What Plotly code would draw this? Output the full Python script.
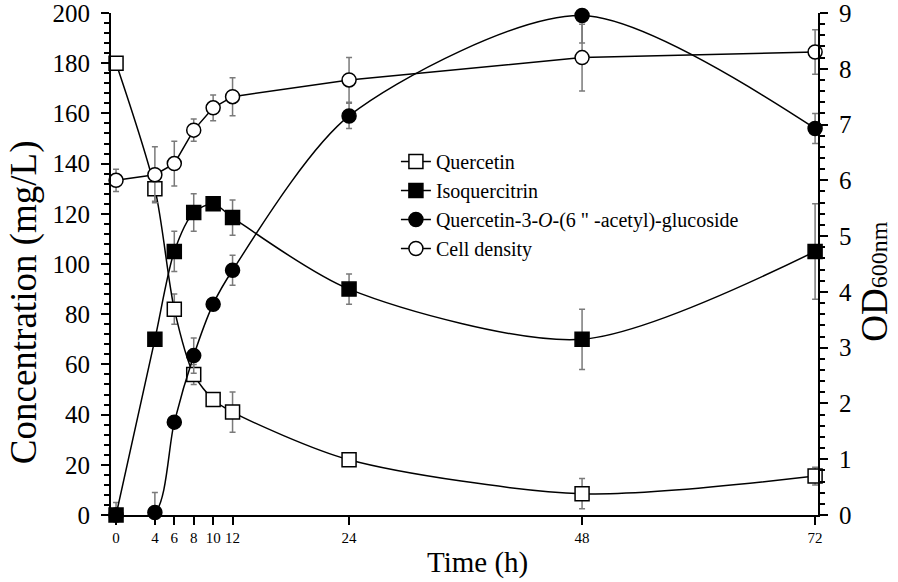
import plotly.graph_objects as go

time_h = [0, 4, 6, 8, 10, 12, 24, 48, 72]
tick_labels = ["0", "4", "6", "8", "10", "12", "24", "48", "72"]

quercetin = [180, 130, 82, 56, 46, 41, 22, 8.5, 15.5]
quercetin_err = [1.5, 5, 6, 4, 2.5, 8, 2, 6, 3.5]

isoquercitrin = [0, 70, 105, 120.5, 124, 118.5, 90, 70, 105]
isoquercitrin_err = [5, 0, 8, 7.5, 1.5, 7, 6, 12, 19]

acetyl_time = [0, 4, 6, 8, 10, 12, 24, 48, 72]
acetyl = [0, 1, 37, 63.5, 84, 97.5, 159, 199, 154]
acetyl_err = [0, 8, 1, 7, 1.5, 6, 5, 11, 6]

cell_density = [6.0, 6.1, 6.3, 6.9, 7.3, 7.5, 7.8, 8.2, 8.3]
cell_density_err = [0.2, 0.5, 0.4, 0.2, 0.23, 0.34, 0.4, 0.6, 0.4]

FONT = "Liberation Serif, Times New Roman, serif"
ERR = dict(type="data", color="#7a7a7a", thickness=1.5, width=3)

fig = go.Figure()

fig.add_trace(go.Scatter(
    x=time_h, y=quercetin, name="Quercetin", mode="lines+markers",
    line=dict(color="black", width=1.5, shape="spline", smoothing=0.8),
    marker=dict(symbol="square", size=14, color="white", line=dict(color="black", width=1.5)),
    error_y=dict(array=quercetin_err, **ERR), cliponaxis=False))

fig.add_trace(go.Scatter(
    x=time_h, y=isoquercitrin, name="Isoquercitrin", mode="lines+markers",
    line=dict(color="black", width=1.5, shape="spline", smoothing=0.8),
    marker=dict(symbol="square", size=14, color="black", line=dict(color="black", width=1.5)),
    error_y=dict(array=isoquercitrin_err, **ERR), cliponaxis=False))

fig.add_trace(go.Scatter(
    x=acetyl_time, y=acetyl, name="Quercetin-3-<i>O</i>-(6 \" -acetyl)-glucoside", mode="lines+markers",
    line=dict(color="black", width=1.5, shape="spline", smoothing=0.8),
    marker=dict(symbol="circle", size=14, color="black", line=dict(color="black", width=1.5)),
    error_y=dict(array=acetyl_err, **ERR), cliponaxis=False))

fig.add_trace(go.Scatter(
    x=time_h, y=cell_density, name="Cell density", mode="lines+markers", yaxis="y2",
    line=dict(color="black", width=1.5),
    marker=dict(symbol="circle", size=14, color="white", line=dict(color="black", width=1.5)),
    error_y=dict(array=cell_density_err, **ERR), cliponaxis=False))

fig.update_layout(
    width=898, height=582,
    margin=dict(l=111, r=80, t=13, b=67, autoexpand=False),
    paper_bgcolor="white", plot_bgcolor="white",
    font=dict(family=FONT, color="black"),
    showlegend=True,
    legend=dict(x=0.403, y=0.743, xanchor="left", yanchor="top",
                bgcolor="rgba(0,0,0,0)", font=dict(size=20, family=FONT),
                tracegroupgap=0, itemwidth=30),
    xaxis=dict(
        range=[-0.52, 72.3], tickmode="array", tickvals=time_h, ticktext=tick_labels,
        showline=True, linecolor="black", linewidth=2, ticks="outside", ticklen=8,
        tickwidth=1.5, tickcolor="black", showgrid=False, zeroline=False, automargin=False,
        tickfont=dict(size=15, family=FONT)),
    yaxis=dict(
        range=[0, 200], tickmode="linear", tick0=0, dtick=20,
        showline=True, linecolor="black", linewidth=2, ticks="outside", ticklen=8,
        tickwidth=1.5, tickcolor="black", showgrid=False, zeroline=False, automargin=False,
        minor=dict(dtick=4, ticks="outside", ticklen=5, tickwidth=1.5, tickcolor="black"),
        tickfont=dict(size=25, family=FONT), ticklabelstandoff=6, ticklabeloverflow="allow"),
    yaxis2=dict(
        range=[0, 9], overlaying="y", side="right", tickmode="linear", tick0=0, dtick=1,
        showline=True, linecolor="black", linewidth=2, ticks="outside", ticklen=8,
        tickwidth=1.5, tickcolor="black", showgrid=False, zeroline=False, automargin=False,
        minor=dict(dtick=0.2, ticks="outside", ticklen=5, tickwidth=1.5, tickcolor="black"),
        tickfont=dict(size=25, family=FONT), ticklabelstandoff=6, ticklabeloverflow="allow"),
    annotations=[
        dict(text="Time (h)", xref="paper", yref="paper", x=0.518, y=-0.094,
             xanchor="center", yanchor="middle", showarrow=False,
             font=dict(size=29, family=FONT)),
        dict(text="Concentration (mg/L)", xref="paper", yref="paper", x=-0.123, y=0.424,
             xanchor="center", yanchor="middle", textangle=-90, showarrow=False,
             font=dict(size=37, family=FONT)),
        dict(text="OD<span style='font-size:24px'>600nm</span>", xref="paper", yref="paper",
             x=1.08, y=0.464, xanchor="center", yanchor="middle", textangle=-90,
             showarrow=False, font=dict(size=37, family=FONT)),
    ],
)

fig.write_html("out.html", config={"displayModeBar": False},
               post_script="document.body.style.margin='0';")
